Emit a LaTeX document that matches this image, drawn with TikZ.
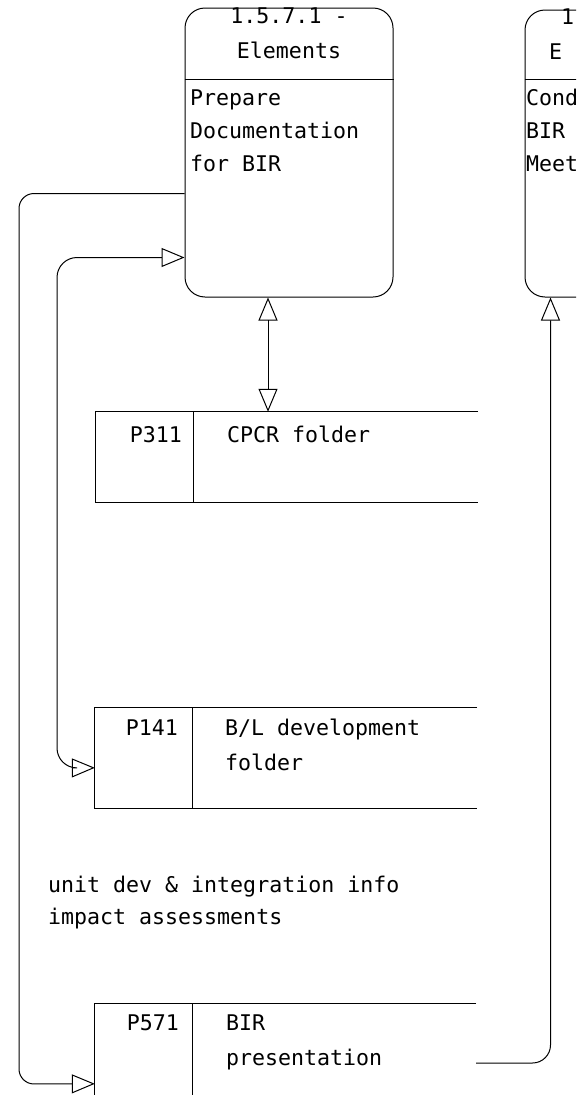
\documentclass[tikz,border=0pt]{standalone}
\usepackage{fontspec}
\setmonofont{DejaVu Sans Mono}
\usetikzlibrary{arrows.meta}

\begin{document}
\begin{tikzpicture}[x=1pt,y=-1pt,
    every node/.style={font=\ttfamily\fontsize{21.6}{33}\selectfont,inner sep=0pt},
    procbox/.style={draw,line width=1pt,rounded corners=20pt},
    storebox/.style={minimum width=382pt},
    edgeline/.style={line width=1pt},
    flow/.style={line width=1pt,-{Triangle[open,length=23pt,width=19pt]}},
    flowboth/.style={line width=1pt,{Triangle[open,length=23pt,width=19pt]}-{Triangle[open,length=23pt,width=19pt]}}]
        \useasboundingbox (0,0) rectangle (576,1095);
        \clip (0,0) rectangle (576,1095);

        % processes (multi-line texts are placed by the baseline of their last line)
        \node[procbox,minimum width=208pt,minimum height=289pt] (p1571) at (289,152.5) {};
        \node[anchor=base] (p1571num) at (289,23) {1.5.7.1 -};
        \node[anchor=base] (p1571ttl) at (289,58) {Elements};
        \draw[edgeline] ([yshift=-72pt]p1571.north west) -- ([yshift=-72pt]p1571.north east);
        \node[anchor=base west,align=left] (p1571txt) at (190,171) {Prepare\\Documentation\\for BIR};

        \node[procbox,minimum width=200pt,minimum height=287pt] (p1572) at (625,153.5) {};
        \node[anchor=base west] (p1572num) at (561,24) {1};
        \node[anchor=base west] (p1572ttl) at (549,59) {E};
        \draw[edgeline] ([yshift=-70pt]p1572.north west) -- ([yshift=-70pt]p1572.north east);
        \node[anchor=base west,align=left] (p1572txt) at (526,171) {Cond\\BIR\\Meet};

        % data stores
        \node[storebox,minimum height=90pt] (p311) at (287,457) {};
        \draw[edgeline] (p311.north east) -- (p311.north west) -- (p311.south west) -- (p311.south east);
        \draw[edgeline] ([xshift=98pt]p311.north west) -- ([xshift=98pt]p311.south west);
        \node[anchor=base east] (p311id) at (182,442) {P311};
        \node[anchor=base west] (p311txt) at (227,442) {CPCR folder};

        \node[storebox,minimum height=100pt] (p141) at (286,758) {};
        \draw[edgeline] (p141.north east) -- (p141.north west) -- (p141.south west) -- (p141.south east);
        \draw[edgeline] ([xshift=98pt]p141.north west) -- ([xshift=98pt]p141.south west);
        \node[anchor=base east] (p141id) at (178,735) {P141};
        \node[anchor=base west,align=left,font=\ttfamily\fontsize{21.6}{35}\selectfont] (p141txt) at (225,770) {B/L development\\folder};

        \node[storebox,minimum width=381pt,minimum height=118pt] (p571) at (285.5,1063) {};
        \draw[edgeline] (p571.north east) -- (p571.north west) -- (p571.south west);
        \draw[edgeline] ([xshift=98pt]p571.north west) -- ([xshift=98pt]p571.south west);
        \node[anchor=base east] (p571id) at (179,1030) {P571};
        \node[anchor=base west,align=left,font=\ttfamily\fontsize{21.6}{35}\selectfont] (p571txt) at (226,1065) {BIR\\presentation};

        \node[anchor=base west,align=left,font=\ttfamily\fontsize{21.6}{32}\selectfont] (flowlbl) at (48,924) {unit dev \& integration info\\impact assessments};

        % flows
        \draw[flow,rounded corners=15pt] ([yshift=-186pt]p1571.north west) -| (19,1084) -- ([yshift=-80pt]p571.north west);
        \draw[flowboth,rounded corners=20pt] ([yshift=-250pt]p1571.north west) -| (57,768) -- ([yshift=-60pt]p141.north west);
        \draw[flowboth] ([xshift=-21pt]p1571.south) -- ([xshift=-19pt]p311.north);
        \draw[flow,rounded corners=18pt] (p571.east) -| ([xshift=26pt]p1572.south west);
\end{tikzpicture}
\end{document}
